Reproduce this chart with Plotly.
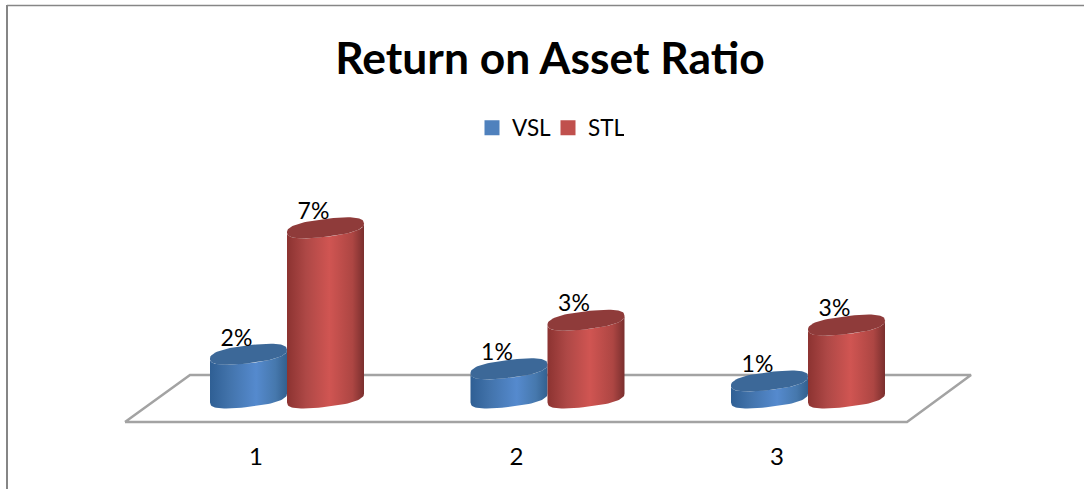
"""Return on Asset Ratio: pseudo 3D cylinder columns, as in the Excel original."""

import numpy as np
import plotly.graph_objects as go

categories = [1, 2, 3]
vsl_values = [1.8, 1.2, 0.7]
stl_values = [7.0, 3.2, 3.0]

W, H = 1084, 489
BOTTOM = 49
PX_X = 260.5    # px per category
PX_Y = 24.3     # px per percent
X0_PX = 287     # px of category 1
Y0_PX = 398     # px of value 0

FONT = "Lato"
BLUE_SCALE = [[0, "#2f5f94"], [0.25, "#4273ab"], [0.6, "#558ace"], [0.85, "#4678ad"], [1, "#33608f"]]
RED_SCALE = [[0, "#8c3331"], [0.25, "#ae4846"], [0.55, "#d05552"], [0.85, "#ad4643"], [1, "#7a2f2e"]]


def dx(px):
    return px / PX_X


def dy(px):
    return px / PX_Y


def ellipse(cx, cy, t):
    # tilted, slightly squared ellipse, right side a bit higher than the left
    c = np.sign(np.cos(t)) * np.abs(np.cos(t)) ** 0.8
    s = np.sign(np.sin(t)) * np.abs(np.sin(t)) ** 0.8
    return cx + dx(38.5) * c, cy + dy(9) * s + dy(4.5) * c


def add_cylinder(fig, cx, value, scale, top_color):
    x_low, y_low = ellipse(cx, 0, np.linspace(np.pi, 2 * np.pi, 40))
    x_up, y_up = ellipse(cx, value, np.linspace(2 * np.pi, np.pi, 40))
    fig.add_trace(go.Scatter(
        x=np.r_[x_low, x_up], y=np.r_[y_low, y_up],
        mode="lines", line=dict(width=0), fill="toself",
        fillgradient=dict(type="horizontal", colorscale=scale),
        showlegend=False, hoverinfo="skip",
    ))
    x_top, y_top = ellipse(cx, value, np.linspace(0, 2 * np.pi, 80))
    fig.add_trace(go.Scatter(
        x=x_top, y=y_top,
        mode="lines", line=dict(width=0), fill="toself", fillcolor=top_color,
        showlegend=False, hoverinfo="skip",
    ))


fig = go.Figure()

# floor
floor_x = [dx(125 - X0_PX) + 1, dx(907 - X0_PX) + 1, dx(971 - X0_PX) + 1, dx(190 - X0_PX) + 1, dx(125 - X0_PX) + 1]
floor_y = [dy(Y0_PX - 422), dy(Y0_PX - 422), dy(Y0_PX - 375), dy(Y0_PX - 375), dy(Y0_PX - 422)]
fig.add_trace(go.Scatter(
    x=floor_x, y=floor_y, mode="lines",
    line=dict(color="#a3a3a3", width=2.5),
    showlegend=False, hoverinfo="skip",
))

half = dx(38.5)
for c, v, s in zip(categories, vsl_values, stl_values):
    add_cylinder(fig, c - half, v, BLUE_SCALE, "#3c6898")
    add_cylinder(fig, c + half, s, RED_SCALE, "#8f3b3a")

# data labels
label_x = [c - half - dx(12) for c in categories] + [c + half - dx(12) for c in categories]
label_y = [v + dy(14.5) for v in vsl_values + stl_values]
label_text = [f"{v:.0f}%" for v in vsl_values + stl_values]
fig.add_trace(go.Scatter(
    x=label_x, y=label_y, text=label_text, mode="text",
    textposition="middle center",
    textfont=dict(family=FONT, size=23, color="#000000"),
    showlegend=False, hoverinfo="skip",
))

# legend entries
for name, color in [("VSL", "#4f81bd"), ("STL", "#c0504d")]:
    fig.add_trace(go.Scatter(
        x=[None], y=[None], mode="markers", name=name,
        marker=dict(symbol="square", size=15, color=color),
    ))

plot_h = H - BOTTOM
fig.update_layout(
    width=W, height=H,
    margin=dict(l=0, r=0, t=0, b=BOTTOM, autoexpand=False),
    paper_bgcolor="#ffffff", plot_bgcolor="#ffffff",
    title=dict(
        text="<b>Return on Asset Ratio</b>",
        x=550 / W, xanchor="center", xref="paper",
        y=1 - 58 / H, yanchor="middle",
        font=dict(family=FONT, size=44.4, color="#000000"),
    ),
    legend=dict(
        orientation="h", x=472 / W, y=1 - 128 / plot_h,
        xanchor="left", yanchor="middle",
        font=dict(family=FONT, size=22.5, color="#000000"),
        bgcolor="rgba(0,0,0,0)",
        entrywidth=31, entrywidthmode="pixels",
    ),
    xaxis=dict(
        range=[1 - X0_PX / PX_X, 1 + (W - X0_PX) / PX_X],
        tickvals=[c - dx(31) for c in categories],
        ticktext=[str(c) for c in categories],
        tickfont=dict(family=FONT, size=24, color="#000000"),
        showgrid=False, zeroline=False, showline=False, ticks="",
        ticklen=3,
    ),
    yaxis=dict(
        range=[(Y0_PX - plot_h) / PX_Y, Y0_PX / PX_Y],
        visible=False, showgrid=False, zeroline=False,
    ),
    shapes=[
        # chart frame, only the top and left sides are in the crop
        dict(type="line", xref="paper", yref="paper", x0=7 / W, x1=1, y0=1 - 5.5 / plot_h, y1=1 - 5.5 / plot_h,
             line=dict(color="#868686", width=1.5)),
        dict(type="line", xref="paper", yref="paper", x0=7 / W, x1=7 / W, y0=1 - 5 / plot_h, y1=-BOTTOM / plot_h,
             line=dict(color="#868686", width=2)),
    ],
)

# page body has a default 8px margin that would push the chart off its place
fig.write_html("out.html", config=dict(displayModeBar=False), post_script="document.body.style.margin='0';")
